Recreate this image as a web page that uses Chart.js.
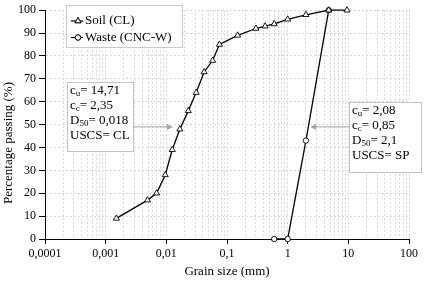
<!DOCTYPE html>
<html>
<head>
<meta charset="utf-8">
<script src="https://cdn.jsdelivr.net/npm/chart.js@4.4.0/dist/chart.umd.min.js"></script>
<style>
  html, body { margin: 0; padding: 0; background: #fff; }
  #wrap { width: 427px; height: 286px; }
</style>
</head>
<body>
<div id="wrap"><canvas id="grading" width="427" height="286"></canvas></div>
<script>
// axis ticks
const xDecades = [0.0001, 0.001, 0.01, 0.1, 1, 10, 100];
const xTickLabels = ['0,0001', '0,001', '0,01', '0,1', '1', '10', '100'];
const yMin = 0, yMax = 100, yStep = 10;

// grading curves (grain size mm / % passing)
const soilSize    = [0.0015, 0.0049, 0.0069, 0.0096, 0.0125, 0.0167, 0.023, 0.031, 0.042, 0.058, 0.075, 0.15, 0.3, 0.425, 0.6, 1.0, 2.0, 4.75, 9.5];
const soilPassing = [9, 17, 20, 28, 39, 48, 56, 64, 73, 78, 85, 89, 92, 93, 94, 96, 98, 100, 100];
const wasteSize    = [0.6, 1.0, 2.0, 4.75];
const wastePassing = [0, 0, 43, 100];

// notes: [main, subscript, rest]
const soilNote = [['c', 'u', '= 14,71'], ['c', 'c', '= 2,35'], ['D', '50', '= 0,018'], ['USCS= CL', '', '']];
const wasteNote = [['c', 'u', '= 2,08'], ['c', 'c', '= 0,85'], ['D', '50', '= 2,1'], ['USCS= SP', '', '']];
const soilD50 = 0.018;
const wasteD50 = 2.1;
const arrowLevel = 49;

const FONT = "'Liberation Serif', 'Times New Roman', serif";

// grid at 1..9 of each decade
const xGridValues = [];
xDecades.forEach(function(d, i) {
    if (i === xDecades.length - 1) { xGridValues.push(d); return; }
    for (let k = 1; k <= 9; k++) xGridValues.push(+(d * k).toPrecision(6));
});
function decadeIndex(v) {
    return xDecades.findIndex(d => Math.abs(v / d - 1) < 1e-6);
}

function toPoints(xs, ys) {
    return xs.map((x, i) => ({ x: x, y: ys[i] }));
}

function drawArrow(ctx, x1, y, x2) {
    const dir = x2 > x1 ? 1 : -1;
    ctx.save();
    ctx.strokeStyle = '#a6a6a6';
    ctx.fillStyle = '#a6a6a6';
    ctx.lineWidth = 1;
    ctx.beginPath();
    ctx.moveTo(x1, y);
    ctx.lineTo(x2 - dir * 4, y);
    ctx.stroke();
    ctx.beginPath();
    ctx.moveTo(x2, y);
    ctx.lineTo(x2 - dir * 6, y - 3);
    ctx.lineTo(x2 - dir * 6, y + 3);
    ctx.closePath();
    ctx.fill();
    ctx.restore();
}

function drawNote(ctx, lines, left, top, w, h) {
    ctx.save();
    ctx.fillStyle = '#fff';
    ctx.fillRect(left, top, w, h);
    ctx.strokeStyle = '#c4c4c4';
    ctx.lineWidth = 1;
    ctx.strokeRect(left + 0.5, top + 0.5, w, h);
    ctx.fillStyle = '#000';
    ctx.textBaseline = 'middle';
    lines.forEach(function(line, i) {
        const y = top + 8.5 + i * 15;
        let x = left + 3;
        ctx.font = '13px ' + FONT;
        ctx.fillText(line[0], x, y);
        x += ctx.measureText(line[0]).width;
        if (line[1]) {
            ctx.font = '9px ' + FONT;
            ctx.fillText(line[1], x, y + 3);
            x += ctx.measureText(line[1]).width;
        }
        ctx.font = '13px ' + FONT;
        ctx.fillText(line[2], x, y);
    });
    ctx.restore();
}

const extrasPlugin = {
    id: 'extras',
    afterDraw(chart) {
        const ctx = chart.ctx;
        const xs = chart.scales.x, ys = chart.scales.y;

        // y axis title, centred on the canvas height like the original
        ctx.save();
        ctx.translate(9, 143);
        ctx.rotate(-Math.PI / 2);
        ctx.font = '13px ' + FONT;
        ctx.fillStyle = '#000';
        ctx.textAlign = 'center';
        ctx.textBaseline = 'middle';
        ctx.fillText('Percentage passing (%)', 0, 0);
        ctx.restore();

        // legend box
        ctx.save();
        ctx.fillStyle = '#fff';
        ctx.fillRect(66, 5, 116, 42);
        ctx.strokeStyle = '#c4c4c4';
        ctx.strokeRect(66.5, 5.5, 116, 42);
        chart.data.datasets.forEach(function(ds, i) {
            const y = 21 + i * 16.5;
            ctx.strokeStyle = '#000';
            ctx.lineWidth = 1.2;
            ctx.beginPath();
            ctx.moveTo(71, y);
            ctx.lineTo(83, y);
            ctx.stroke();
            ctx.fillStyle = '#fff';
            ctx.lineWidth = 0.9;
            Chart.helpers.drawPoint(ctx, { pointStyle: ds.pointStyle, radius: ds.pointRadius, rotation: 0, borderWidth: 0.9 }, 78, y);
            ctx.fill();
            ctx.stroke();
            ctx.fillStyle = '#000';
            ctx.font = '13px ' + FONT;
            ctx.textBaseline = 'middle';
            ctx.fillText(ds.label, 85, y);
        });
        ctx.restore();

        // notes and arrows
        drawNote(ctx, soilNote, 67, 82, 66, 69);
        drawNote(ctx, wasteNote, 349, 102, 72, 70);
        const ay = ys.getPixelForValue(arrowLevel);
        drawArrow(ctx, 133, ay, xs.getPixelForValue(soilD50) - 9);
        drawArrow(ctx, 349, ay, xs.getPixelForValue(wasteD50) + 3);
    }
};

const ctx = document.getElementById('grading');
new Chart(ctx, {
    type: 'line',
    data: {
        datasets: [
            {
                label: 'Soil (CL)',
                data: toPoints(soilSize, soilPassing),
                borderColor: '#000',
                borderWidth: 1.3,
                pointStyle: 'triangle',
                pointRadius: 3.5,
                pointBackgroundColor: '#fff',
                pointBorderColor: '#000',
                pointBorderWidth: 0.9,
                tension: 0,
                clip: false
            },
            {
                label: 'Waste (CNC-W)',
                data: toPoints(wasteSize, wastePassing),
                borderColor: '#000',
                borderWidth: 1.3,
                pointStyle: 'circle',
                pointRadius: 2.7,
                pointBackgroundColor: '#fff',
                pointBorderColor: '#000',
                pointBorderWidth: 0.9,
                tension: 0,
                clip: false
            }
        ]
    },
    options: {
        responsive: false,
        animation: false,
        layout: { padding: { top: 8, right: 18, left: 0, bottom: 0 } },
        plugins: {
            legend: { display: false },
            tooltip: { enabled: false }
        },
        scales: {
            x: {
                type: 'logarithmic',
                min: xDecades[0],
                max: xDecades[xDecades.length - 1],
                afterBuildTicks: function(s) {
                    s.ticks = xGridValues.map(v => ({ value: v, major: decadeIndex(v) >= 0 }));
                },
                afterFit: function(s) { s.height = 47; },
                grid: {
                    color: '#dadada',
                    lineWidth: 1,
                    tickLength: 5,
                    tickColor: c => (c.tick && decadeIndex(c.tick.value) >= 0) ? '#000' : 'rgba(0,0,0,0)'
                },
                border: { color: '#000', width: 1, dash: [2, 2] },
                ticks: {
                    autoSkip: false,
                    maxRotation: 0,
                    padding: 3,
                    color: '#000',
                    font: { family: FONT, size: 12 },
                    callback: function(v) {
                        const i = decadeIndex(v);
                        return i >= 0 ? xTickLabels[i] : '';
                    }
                },
                title: {
                    display: true,
                    text: 'Grain size (mm)',
                    color: '#000',
                    font: { family: FONT, size: 13 },
                    padding: { top: 0, bottom: 7 }
                }
            },
            y: {
                min: yMin,
                max: yMax,
                afterFit: function(s) { s.width = 45; },
                grid: { color: '#dadada', lineWidth: 1, tickLength: 6, tickColor: '#000' },
                border: { color: '#000', width: 1, dash: [2, 2] },
                ticks: {
                    stepSize: yStep,
                    padding: 3,
                    color: '#000',
                    font: { family: FONT, size: 12 }
                }
            }
        }
    },
    plugins: [extrasPlugin]
});
</script>
</body>
</html>
